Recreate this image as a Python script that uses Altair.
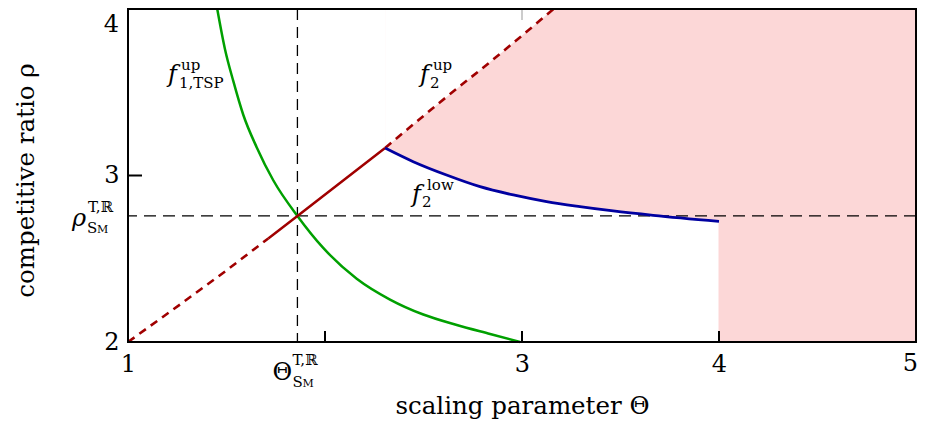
import altair as alt
import pandas as pd

# ---------------- data ----------------
x_tick_labels = [1, 3, 4]
x_last_label = [5]
y_tick_labels = [2, 3]
y_top_label = [4]
x_inner_ticks = [2, 3, 4]
y_inner_ticks = [3]
top_ticks = [3]

theta_star = 1.86
rho_star = 2.757
rho_top = 4.0

green_theta = [1.453, 1.492, 1.535, 1.585, 1.653, 1.738, 1.86, 1.991, 2.161, 2.33, 2.499, 2.669, 2.838, 2.99]
green_rho = [4.0, 3.76, 3.565, 3.365, 3.17, 2.97, 2.757, 2.565, 2.38, 2.255, 2.165, 2.102, 2.048, 2.0]

red_dash1_theta = [1.0, 1.264, 1.5, 1.712]
red_dash1_rho = [2.0, 2.225, 2.43, 2.622]
red_solid_theta = [1.712, 1.86, 2.305]
red_solid_rho = [2.622, 2.757, 3.165]
red_dash2_theta = [2.305, 2.584, 2.888, 3.16]
red_dash2_rho = [3.165, 3.44, 3.73, 4.0]

blue_theta = [2.305, 2.448, 2.617, 2.787, 2.956, 3.125, 3.294, 3.463, 3.666, 4.0]
blue_rho = [3.165, 3.083, 3.003, 2.933, 2.883, 2.843, 2.813, 2.787, 2.761, 2.725]

block_theta = [4.0, 5.0]
block_rho = [2.0, 4.0]

# label anchors (data coordinates)
f1_pos = (1.203, 3.56)
f2up_pos = (2.482, 3.56)
f2low_pos = (2.442, 2.84)
theta_lab_pos = (theta_star, 2.0)
rho_lab_pos = (1.0, rho_star)

W, H = 788, 333
FONT = "DejaVu Serif"
RED = "#a00000"
GREEN = "#00a000"
BLUE = "#0000a0"
PINK = "#fcd7d7"

xs = alt.Scale(domain=[1, 5], nice=False, zero=False)
ys = alt.Scale(domain=[2, 4], nice=False, zero=False)

XA = alt.Axis(values=x_tick_labels, title="scaling parameter Θ", labelFontSize=24,
              labelFont=FONT, labelColor="black", labelPadding=10, labelFlush=False,
              labelOverlap=False, titleFont=FONT, titleFontSize=24.5,
              titleFontWeight="normal", titleColor="black", titleY=71,
              titleBaseline="alphabetic", format="d", grid=False, domain=False, ticks=False)
YA = alt.Axis(values=y_tick_labels, title="competitive ratio ρ", labelFontSize=24,
              labelFont=FONT, labelColor="black", labelPadding=9, labelFlush=False,
              labelOverlap=False, titleFont=FONT, titleFontSize=24.5,
              titleFontWeight="normal", titleColor="black", titleX=-95, titleY=171,
              titleAngle=-90, titleBaseline="alphabetic", titleAlign="center",
              format="d", grid=False, domain=False, ticks=False)


def X(field="t"):
    return alt.X(f"{field}:Q", scale=xs, axis=XA)


def Y(field="r"):
    return alt.Y(f"{field}:Q", scale=ys, axis=YA)


def frame(th, rh):
    return pd.DataFrame({"t": th, "r": rh})


layers = []

# pink region above the lower bound
pink_df = frame(blue_theta, blue_rho)
pink_df["top"] = rho_top
layers.append(alt.Chart(pink_df).mark_area(color=PINK, interpolate="monotone").encode(
    x=X(), y=Y(), y2="top:Q"))

block_df = pd.DataFrame({"t": [block_theta[0]], "t2": [block_theta[1]],
                         "r": [block_rho[0]], "r2": [block_rho[1]]})
layers.append(alt.Chart(block_df).mark_rect(color=PINK, stroke=PINK, strokeWidth=1).encode(
    x=X(), y=Y(), x2="t2:Q", y2="r2:Q"))

# white above upper bound
white_df = frame(red_dash2_theta, red_dash2_rho)
white_df["top"] = rho_top
layers.append(alt.Chart(white_df).mark_area(color="white", interpolate="monotone").encode(
    x=X(), y=Y(), y2="top:Q"))

# dashed reference lines
layers.append(alt.Chart(pd.DataFrame({"t": [theta_star]})).mark_rule(
    color="black", strokeWidth=1.3, strokeDash=[11, 7]).encode(x=X()))
layers.append(alt.Chart(pd.DataFrame({"r": [rho_star]})).mark_rule(
    color="black", strokeWidth=1.3, strokeDash=[12, 7]).encode(y=Y()))

# curves
g_df = frame(green_theta, green_rho)
layers.append(alt.Chart(g_df).mark_line(color=GREEN, strokeWidth=2.5, interpolate="monotone").encode(
    x=X(), y=Y()))

r1 = frame(red_dash1_theta, red_dash1_rho)
layers.append(alt.Chart(r1).mark_line(color=RED, strokeWidth=2.6, strokeDash=[8, 6]).encode(x=X(), y=Y()))
r2 = frame(red_solid_theta, red_solid_rho)
layers.append(alt.Chart(r2).mark_line(color=RED, strokeWidth=2.5, interpolate="monotone").encode(x=X(), y=Y()))
r3 = frame(red_dash2_theta, red_dash2_rho)
layers.append(alt.Chart(r3).mark_line(color=RED, strokeWidth=2.6, strokeDash=[8, 6],
                                      interpolate="monotone").encode(x=X(), y=Y()))

b_df = frame(blue_theta, blue_rho)
layers.append(alt.Chart(b_df).mark_line(color=BLUE, strokeWidth=2.8, interpolate="monotone").encode(x=X(), y=Y()))

# inward ticks
layers.append(alt.Chart(pd.DataFrame({"t": x_inner_ticks})).mark_rule(color="black", strokeWidth=2).encode(
    x=X(), y=alt.value(H), y2=alt.value(H - 11)))
layers.append(alt.Chart(pd.DataFrame({"t": top_ticks})).mark_rule(color="#aaaaaa", strokeWidth=1.2).encode(
    x=X(), y=alt.value(0), y2=alt.value(11)))
layers.append(alt.Chart(pd.DataFrame({"r": y_inner_ticks})).mark_rule(color="black", strokeWidth=2).encode(
    y=Y(), x=alt.value(0), x2=alt.value(14)))

# frame
layers.append(alt.Chart(pd.DataFrame({"k": [0]})).mark_rect(
    fillOpacity=0, stroke="black", strokeWidth=2).encode(
    x=alt.value(0), x2=alt.value(W), y=alt.value(0), y2=alt.value(H)))

# edge tick labels, nudged to stay inside the page
top_df = pd.DataFrame({"t": [1.0], "r": y_top_label, "s": [str(v) for v in y_top_label]})
layers.append(alt.Chart(top_df).mark_text(
    align="right", baseline="top", dx=-9, dy=4, fontSize=24, font=FONT, color="black").encode(
    x=X(), y=Y(), text="s:N"))
last_df = pd.DataFrame({"t": x_last_label, "r": [2.0], "s": [str(v) for v in x_last_label]})
layers.append(alt.Chart(last_df).mark_text(
    align="right", baseline="top", dx=2, dy=10, fontSize=24, font=FONT, color="black").encode(
    x=X(), y=Y(), text="s:N"))

# text labels: (text, anchor, dx, dy, size, style)
pieces = [
    ("f", f1_pos, 0, 0, 24, "italic"),
    ("up", f1_pos, 13, -12, 15, "normal"),
    ("1,TSP", f1_pos, 11, 6, 15, "normal"),
    ("f", f2up_pos, 0, 0, 24, "italic"),
    ("up", f2up_pos, 13, -12, 15, "normal"),
    ("2", f2up_pos, 10, 6, 15, "normal"),
    ("f", f2low_pos, 0, 0, 24, "italic"),
    ("low", f2low_pos, 15, -12, 15, "normal"),
    ("2", f2low_pos, 10, 5, 15, "normal"),
    ("Θ", theta_lab_pos, -25, 38, 24, "normal"),
    ("T,ℝ", theta_lab_pos, -5, 23, 15, "normal"),
    ("S", theta_lab_pos, -5, 45, 15, "normal"),
    ("M", theta_lab_pos, 5, 45, 11, "normal"),
    ("ρ", rho_lab_pos, -56, 10, 24, "italic"),
    ("T,ℝ", rho_lab_pos, -40, -4, 15, "normal"),
    ("S", rho_lab_pos, -41, 17, 15, "normal"),
    ("M", rho_lab_pos, -31, 17, 11, "normal"),
]
for txt, pos, dx, dy, size, style in pieces:
    d = pd.DataFrame({"t": [pos[0]], "r": [pos[1]], "s": [txt]})
    layers.append(alt.Chart(d).mark_text(
        align="left", baseline="alphabetic", dx=dx, dy=dy, fontSize=size,
        fontStyle=style, font=FONT, color="black").encode(x=X(), y=Y(), text="s:N"))

chart = alt.layer(*layers).properties(
    width=W, height=H,
    autosize=alt.AutoSizeParams(type="none"),
    padding={"left": 120, "top": 1, "right": 2, "bottom": 78},
).configure_view(strokeWidth=0)

chart.save("out.html", embed_options={"renderer": "svg", "actions": False})
